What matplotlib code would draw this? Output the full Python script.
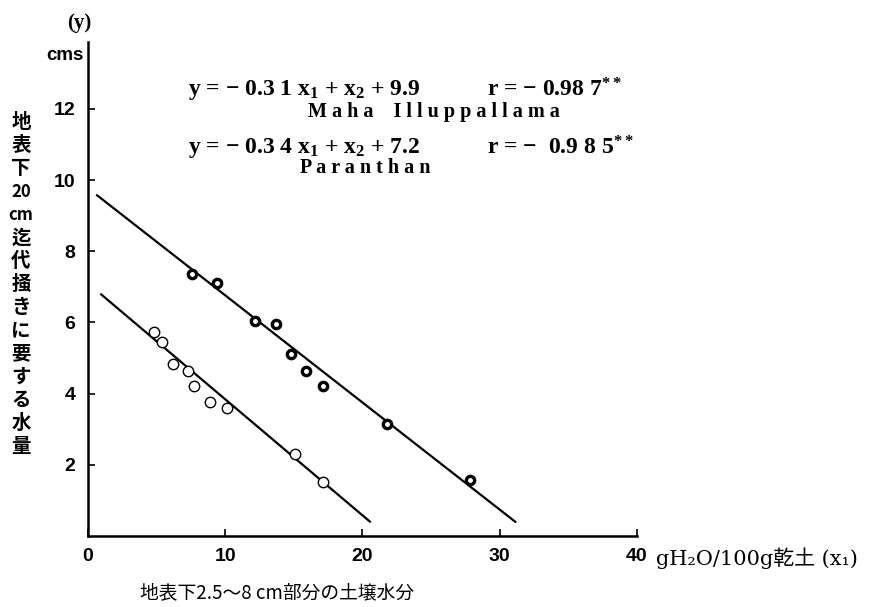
import matplotlib
matplotlib.use("Agg")
import matplotlib.pyplot as plt
import numpy as np

plt.rcParams['font.family'] = ['Liberation Sans', 'Noto Sans CJK JP', 'DejaVu Sans']
plt.rcParams['mathtext.default'] = 'regular'

# Soil moisture at 2.5-8 cm (g H2O / 100 g dry soil) vs. water needed for puddling (cm)
maha_x = [7.6, 9.4, 12.2, 13.7, 14.8, 15.9, 17.1, 21.8, 27.8]
maha_y = [7.36, 7.10, 6.05, 5.96, 5.11, 4.64, 4.22, 3.15, 1.57]
para_x = [4.8, 5.4, 6.2, 7.3, 7.7, 8.9, 10.1, 15.1, 17.1]
para_y = [5.74, 5.46, 4.83, 4.64, 4.21, 3.76, 3.59, 2.30, 1.51]

# fitted regression lines (slope, intercept, x-range drawn)
maha_fit = (-0.301, 9.77, (0.6, 31.2))
para_fit = (-0.326, 7.10, (0.9, 20.6))

x_ticks = [0, 10, 20, 30, 40]
y_ticks = [2, 4, 6, 8, 10, 12]

fig = plt.figure(figsize=(8.78, 6.07), dpi=100)
ax = fig.add_axes([0.1002, 0.117, 0.6253, 0.814])
ax.set_xlim(0, 40)
ax.set_ylim(0, 13.88)

for slope, icpt, (x0, x1) in (maha_fit, para_fit):
    xs = np.array([x0, x1])
    ax.plot(xs, slope * xs + icpt, color='black', lw=1.6, solid_capstyle='butt')

ax.plot(maha_x, maha_y, 'o', ms=6, mfc='white', mec='black', mew=2.4, clip_on=False)
ax.plot(para_x, para_y, 'o', ms=7.5, mfc='white', mec='black', mew=1.0, clip_on=False)

for s in ('top', 'right'):
    ax.spines[s].set_visible(False)
for s in ('left', 'bottom'):
    ax.spines[s].set_linewidth(1.8)

ax.set_xticks(x_ticks)
ax.set_xticklabels([str(t) for t in x_ticks])
ax.set_yticks(y_ticks)
ax.set_yticklabels([str(t) for t in y_ticks])
ax.tick_params(direction='in', length=5, width=1.2, labelsize=14, pad=9)
for lab in ax.get_xticklabels() + ax.get_yticklabels():
    lab.set_fontweight('bold')

# unit labels on the axes
fig.text(67 / 878, 1 - 23 / 607, '(y)', fontsize=15, fontweight='bold',
         ha='left', va='center', family='Liberation Serif')
fig.text(84 / 878, 1 - 55 / 607, 'cms', fontsize=13.5, fontweight='bold',
         ha='right', va='center')
fig.text(656 / 878, 1 - 558 / 607, 'gH₂O/100g乾土 (x₁)', fontsize=15,
         ha='left', va='center', family=['DejaVu Serif', 'Noto Sans CJK JP'])
fig.text(140 / 878, 1 - 593 / 607, '地表下2.5～8 cm部分の土壌水分', fontsize=13.5,
         ha='left', va='center', family=['Noto Sans CJK JP', 'DejaVu Sans'])

# vertical y-axis title, one character per line
ylabel_chars = ['地', '表', '下', '20', 'cm', '迄', '代', '掻', 'き', 'に', '要', 'す', 'る', '水', '量']
for i, ch in enumerate(ylabel_chars):
    style = 'italic' if ch == 'cm' else 'normal'
    fig.text(21 / 878, 1 - (122 + i * 23.2) / 607, ch, fontsize=14 if len(ch) == 1 else 12,
             ha='center', va='center', style=style, fontweight='bold',
             family=['Noto Sans CJK JP', 'DejaVu Sans'])

# regression equations
eq_font = dict(fontsize=17, ha='left', va='center', family='Liberation Serif', fontweight='bold')
fig.text(188 / 878, 1 - 90 / 607, r'y = − 0.3 1 x$_1$ + x$_2$ + 9.9', **eq_font)
fig.text(487 / 878, 1 - 90 / 607, r'r = − 0.98 7$^{* *}$', **eq_font)
fig.text(308 / 878, 1 - 112 / 607, 'M a h a    I l l u p p a l l a m a', fontsize=14.5,
         ha='left', va='center', family='Liberation Serif', fontweight='bold')
fig.text(188 / 878, 1 - 148 / 607, r'y = − 0.3 4 x$_1$ + x$_2$ + 7.2', **eq_font)
fig.text(487 / 878, 1 - 148 / 607, r'r = −  0.9 8 5$^{* *}$', **eq_font)
fig.text(300 / 878, 1 - 168 / 607, 'P a r a n t h a n', fontsize=14.5,
         ha='left', va='center', family='Liberation Serif', fontweight='bold')

fig.savefig('out.png', dpi=100, facecolor='white')
